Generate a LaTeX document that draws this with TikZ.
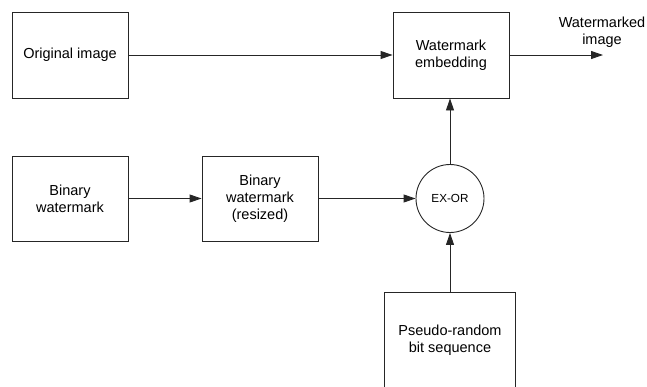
\documentclass[tikz,border=0pt]{standalone}
\usepackage{fontspec}
\setmainfont{Liberation Sans}
\usetikzlibrary{arrows.meta}
\begin{document}
\begin{tikzpicture}[x=1pt,y=-1pt,
  blk/.style={draw=black!85,line width=0.9pt,minimum width=#1,inner sep=0pt,align=center,font=\fontsize{14.5}{17}\selectfont},
  con/.style={draw=black!85,line width=0.9pt,-{Triangle[length=12pt,width=8pt]}},
  plain/.style={draw=black!85,line width=0.9pt}]
\useasboundingbox (0,0) rectangle (647,386);
\node[blk=116pt,minimum height=86pt] (orig) at (70,55) {Original image};
\node[blk=116pt,minimum height=86pt] (emb) at (451,55) {Watermark\\embedding};
\node[blk=116pt,minimum height=85pt] (bw) at (70,198.5) {Binary\\watermark};
\node[blk=116pt,minimum height=85pt] (bwr) at (260,198.5) {Binary\\watermark\\(resized)};
\node[draw=black!85,line width=0.9pt,circle,minimum size=68pt,inner sep=0pt,font=\fontsize{11.7}{14}\selectfont] (xor) at (450,198.5) {EX-OR};
\node[blk=131pt,minimum height=96pt] (prs) at (450,340) {Pseudo-random\\bit sequence};
\node[align=center,font=\fontsize{14.5}{17}\selectfont] (wm) at (602,32) {Watermarked\\image};
\coordinate (out) at (603,55);
\draw[con] (orig.east) -- (emb.west);
\draw[con] (emb.east) -- (out);
\draw[con] (bw.east) -- (bwr.west);
\draw[con] (bwr.east) -- (xor.west);
\draw[con] (xor.north) -- (xor.north |- emb.south);
\draw[con] (prs.north) -- (xor.south);
\end{tikzpicture}
\end{document}
